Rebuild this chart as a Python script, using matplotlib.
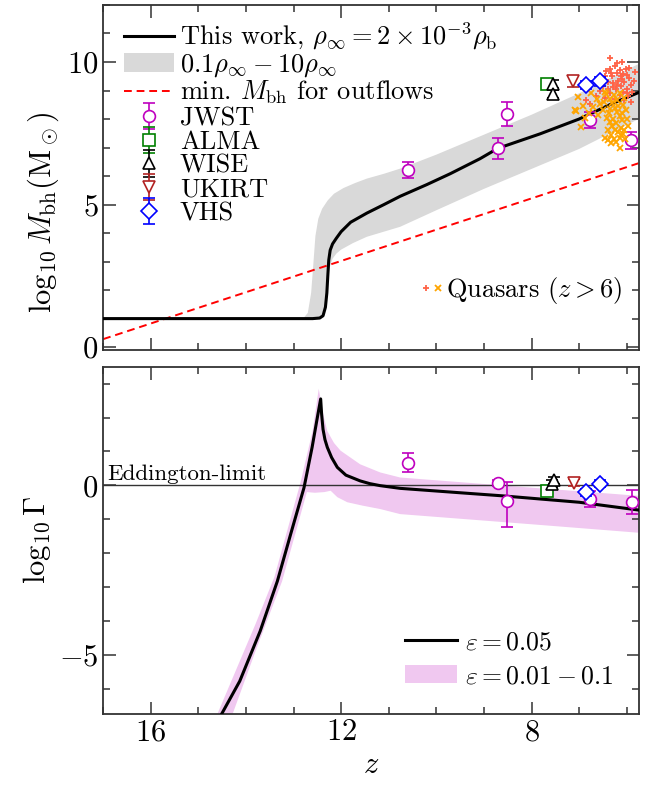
import numpy as np
import matplotlib.pyplot as plt
from matplotlib.patches import Patch
from matplotlib.lines import Line2D
from matplotlib.legend_handler import HandlerTuple
from matplotlib.ticker import MultipleLocator

plt.rcParams['font.family'] = 'serif'
plt.rcParams['font.serif'] = ['cmr10']
plt.rcParams['mathtext.fontset'] = 'cm'
plt.rcParams['axes.formatter.use_mathtext'] = True

# --- curva del modelo: log10 Mbh vs z
z_mod = [17.0, 12.6, 12.45, 12.38, 12.33, 12.3, 12.28, 12.26, 12.23, 12.18, 12.1, 12.0,
         11.8, 11.46, 11.1, 10.76, 10.2, 9.71, 9.08, 8.71, 7.82, 7.0, 6.32, 5.75]
m_mod = [1.0, 1.0, 1.02, 1.1, 1.4, 1.9, 2.5, 3.05, 3.4, 3.62, 3.82, 4.05,
         4.38, 4.7, 5.0, 5.29, 5.7, 6.08, 6.61, 6.97, 7.48, 8.0, 8.53, 8.93]

# banda 0.1 rho - 10 rho
z_up = [17.0, 12.8, 12.7, 12.63, 12.58, 12.54, 12.48, 12.4, 12.28, 12.15, 11.95, 11.7,
        11.46, 11.1, 10.76, 10.0, 9.0, 8.0, 7.0, 5.75]
m_up = [1.0, 1.0, 1.2, 1.9, 3.0, 3.9, 4.5, 4.85, 5.15, 5.38, 5.58, 5.76,
        5.91, 6.08, 6.26, 6.75, 7.45, 8.15, 8.9, 9.93]
z_lo = [17.0, 12.45, 12.4, 12.33, 12.29, 12.24, 12.18, 12.1, 12.0, 11.75, 11.46, 10.76,
        10.0, 9.0, 8.0, 7.0, 5.75]
m_lo = [1.0, 1.0, 1.07, 1.6, 2.2, 2.8, 3.1, 3.28, 3.42, 3.65, 3.87, 4.22,
        4.8, 5.55, 6.25, 6.95, 8.0]

# minimo Mbh para outflows (recta)
z_out = [17.0, 5.75]
m_out = [0.28, 6.45]

# observaciones (z, log Mbh, error)
jwst_z = [10.6, 8.71, 8.52, 6.78, 5.91]
jwst_m = [6.22, 6.97, 8.18, 7.95, 7.25]
jwst_e = [0.29, 0.37, 0.41, 0.28, 0.30]
alma_z, alma_m, alma_e = [7.67], [9.23], [0.15]
wise_z, wise_m, wise_e = [7.55, 7.55], [9.23, 8.88], [0.15, 0.15]
ukirt_z, ukirt_m, ukirt_e = [7.13], [9.32], [0.2]
vhs_z, vhs_m, vhs_e = [6.85, 6.57], [9.2, 9.32], [0.15, 0.15]

# cuasares z > 6
qa_z = [6.36, 6.35, 6.43, 6.08, 6.25, 6.2, 6.15, 6.3, 6.1, 6.0, 5.95, 6.05, 6.18, 6.28,
        6.4, 6.12, 5.92, 6.0, 6.22, 6.08, 5.88, 6.35, 6.15, 5.98, 6.05, 6.25, 5.9, 6.4,
        6.5, 6.57, 6.29, 6.78, 6.85, 6.65, 6.45, 6.1, 6.2, 6.02, 5.85, 5.83, 6.32, 6.13,
        6.45, 6.0, 6.2, 5.95]
qa_m = [10.14, 9.76, 9.67, 9.58, 9.85, 9.6, 9.72, 9.5, 9.42, 9.55, 9.45, 9.3, 9.35, 9.25,
        9.3, 9.15, 9.2, 9.05, 9.05, 8.95, 8.95, 8.9, 8.85, 8.8, 8.65, 8.7, 8.6, 9.05,
        9.15, 9.0, 9.11, 8.53, 8.65, 8.8, 8.75, 10.0, 9.95, 9.75, 9.35, 9.65, 9.62, 9.5,
        9.5, 8.9, 9.2, 9.8]
qb_z = [7.02, 7.06, 6.95, 7.09, 6.92, 6.71, 6.57, 6.4, 6.32, 6.15, 6.08, 6.43, 6.35, 6.3,
        6.25, 6.2, 6.15, 6.1, 6.28, 6.22, 6.12, 6.3, 6.05, 6.18, 6.38, 6.42, 6.35, 6.02,
        6.08, 6.2, 6.25, 6.15, 6.32, 6.4, 6.1, 6.0, 5.98, 6.05, 6.14, 6.27, 6.48, 6.5,
        6.6, 6.8, 6.88, 6.45, 6.22, 6.03, 6.13, 6.26, 6.36, 6.19, 6.45, 6.62, 6.75]
qb_m = [8.76, 8.27, 7.71, 8.3, 8.47, 8.41, 8.53, 7.25, 7.15, 7.0, 7.48, 8.88, 8.7, 8.55,
        8.4, 8.25, 8.1, 7.95, 8.0, 7.85, 7.7, 7.75, 7.6, 7.55, 8.2, 8.05, 7.9, 8.3,
        8.5, 8.65, 7.6, 7.35, 7.45, 7.6, 8.2, 8.0, 7.75, 8.75, 8.9, 8.85, 8.6, 8.3,
        8.15, 8.2, 8.05, 7.35, 7.2, 7.3, 7.45, 7.3, 8.35, 8.45, 8.95, 8.7, 8.9]

# --- panel inferior: log10 Gamma
z_g = [14.55, 14.13, 13.7, 13.34, 13.06, 12.78, 12.61, 12.5, 12.43, 12.41, 12.38, 12.34,
       12.29, 12.2, 12.08, 11.9, 11.6, 11.4, 11.18, 10.76, 9.5, 8.62, 7.0, 5.75]
g_mod = [-6.85, -5.78, -4.3, -2.83, -1.44, -0.07, 1.12, 2.0, 2.55, 2.1, 1.65, 1.35,
         1.12, 0.82, 0.53, 0.3, 0.13, 0.05, -0.01, -0.09, -0.22, -0.31, -0.5, -0.73]
# contorno de la banda eps = 0.01 - 0.1
z_gb = [14.6, 13.8, 13.4, 12.85, 12.6, 12.47, 12.42, 12.36, 12.29, 12.15, 12.01, 11.6,
        11.18, 10.76, 8.0, 5.75, 5.75, 8.0, 10.76, 11.18, 11.55, 11.87, 12.08, 12.22,
        12.35, 12.55, 12.72, 13.24, 13.8, 14.28]
g_gb = [-6.75, -4.1, -2.7, 0.1, 1.6, 2.85, 2.45, 2.0, 1.6, 1.25, 1.02, 0.62,
        0.38, 0.23, -0.07, -0.31, -1.4, -1.15, -0.85, -0.7, -0.6, -0.5, -0.35, -0.16,
        -0.2, -0.22, -0.2, -2.83, -4.9, -6.75]

jw_gz = [10.6, 8.7, 8.51, 6.78, 5.89]
jw_g = [0.67, 0.08, -0.46, -0.41, -0.49]
jw_ge = [[0.29, 0.09, 0.76, 0.23, 0.36], [0.29, 0.09, 0.56, 0.23, 0.36]]
al_gz, al_g = [7.67], [-0.18]
wi_gz, wi_g = [7.57, 7.52], [0.05, 0.15]
uk_gz, uk_g = [7.11], [0.08]
vh_gz, vh_g = [6.85, 6.57], [-0.21, 0.05]
small_e = 0.1

fig = plt.figure(figsize=(6.57, 7.9), dpi=100)
ax1 = fig.add_axes([0.157, 0.557, 0.815, 0.4367])
ax2 = fig.add_axes([0.157, 0.0962, 0.815, 0.4396])

band_c = '#d9d9d9'
pink = '#f0c8f0'
ek = dict(capsize=4, elinewidth=1.2, capthick=1.2, mew=1.2, mfc='white', ls='none')

# ---------- panel superior
ax1.fill(np.concatenate([z_up, z_lo[::-1]]), np.concatenate([m_up, m_lo[::-1]]),
         color=band_c, lw=0, zorder=1)
ln, = ax1.plot(z_mod, m_mod, color='k', lw=2.2, zorder=3)
ax1.plot(z_out, m_out, color='red', ls='--', lw=1.4, dashes=(4, 2.5), zorder=2)

e_j = ax1.errorbar(jwst_z, jwst_m, yerr=jwst_e, fmt='o', ms=8.5, mec='m', ecolor='m', zorder=4, **ek)
qa, = ax1.plot(qa_z, qa_m, '+', color='tomato', ms=4.5, mew=1.3, ls='none', zorder=5)
qb, = ax1.plot(qb_z, qb_m, 'x', color='orange', ms=4, mew=1.3, ls='none', zorder=5)
e_a = ax1.errorbar(alma_z, alma_m, yerr=alma_e, fmt='s', ms=8, mec='green', ecolor='green', zorder=6, **ek)
e_w = ax1.errorbar(wise_z, wise_m, yerr=wise_e, fmt='^', ms=8, mec='k', ecolor='k', zorder=6, **ek)
e_u = ax1.errorbar(ukirt_z, ukirt_m, yerr=ukirt_e, fmt='v', ms=8, mec='firebrick', ecolor='firebrick', zorder=6, **ek)
e_v = ax1.errorbar(vhs_z, vhs_m, yerr=vhs_e, fmt='D', ms=8.5, mec='blue', ecolor='blue', zorder=6, **ek)

h_band = Patch(color=band_c, lw=0)
h_out = Line2D([], [], color='red', ls='--', lw=1.4, dashes=(4, 2.5))
leg1 = ax1.legend([ln, h_band, h_out, e_j, e_a, e_w, e_u, e_v],
                  [r'This work, $\rho_\infty=2\times10^{-3}\rho_{\rm b}$',
                   r'$0.1\rho_\infty-10\rho_\infty$',
                   r'min. $M_{\rm bh}$ for outflows',
                   'JWST', 'ALMA', 'WISE', 'UKIRT', 'VHS'],
                  loc='upper left', bbox_to_anchor=(0.01, 1.0), frameon=False, fontsize=19,
                  handlelength=1.9, handletextpad=0.2, labelspacing=0.0,
                  borderaxespad=0.4, borderpad=0.2)
ax1.add_artist(leg1)
ax1.legend([(qa, qb)], [r'Quasars ($z>6$)'], handler_map={tuple: HandlerTuple(ndivide=None, pad=0.0)},
           loc='center right', bbox_to_anchor=(0.985, 0.172), frameon=False, fontsize=19,
           handlelength=0.9, handletextpad=0.1, borderaxespad=0.2, borderpad=0.1)

ax1.set_xlim(17, 5.75)
ax1.set_ylim(-0.1, 12)
ax1.set_ylabel(r'$\log_{10}M_{\rm bh}({\rm M}_\odot)$', fontsize=22, y=0.40)
ax1.yaxis.set_major_locator(MultipleLocator(5))
ax1.yaxis.set_minor_locator(MultipleLocator(1))
ax1.tick_params(labelbottom=False)

# ---------- panel inferior
ax2.fill(z_gb, g_gb, color=pink, lw=0, zorder=1)
lg, = ax2.plot(z_g, g_mod, color='k', lw=2.2, zorder=3)
ax2.axhline(0, color='#333333', lw=1.0, zorder=2)
ax2.text(16.92, 0.04, 'Eddington-limit', fontsize=16.5, va='bottom', ha='left')

ax2.errorbar(jw_gz, jw_g, yerr=jw_ge, fmt='o', ms=8.5, mec='m', ecolor='m', zorder=4, **ek)
ax2.errorbar(al_gz, al_g, yerr=small_e, fmt='s', ms=8, mec='green', ecolor='green', zorder=6, **ek)
ax2.errorbar(wi_gz, wi_g, yerr=small_e, fmt='^', ms=8, mec='k', ecolor='k', zorder=6, **ek)
ax2.errorbar(uk_gz, uk_g, yerr=small_e, fmt='v', ms=8, mec='firebrick', ecolor='firebrick', zorder=6, **ek)
ax2.errorbar(vh_gz, vh_g, yerr=small_e, fmt='D', ms=8.5, mec='blue', ecolor='blue', zorder=6, **ek)

ax2.legend([lg, Patch(color=pink, lw=0)], [r'$\varepsilon=0.05$', r'$\varepsilon=0.01-0.1$'],
           loc='lower right', frameon=False, fontsize=18.5, handlelength=2.0,
           handletextpad=0.3, labelspacing=0.4, borderaxespad=0.6)

ax2.set_xlim(17, 5.75)
ax2.set_ylim(-6.75, 3.5)
ax2.set_ylabel(r'$\log_{10}\Gamma$', fontsize=22)
ax2.set_xlabel(r'$z$', fontsize=22)
ax2.yaxis.set_major_locator(MultipleLocator(5))
ax2.yaxis.set_minor_locator(MultipleLocator(1))

for ax in (ax1, ax2):
    ax.xaxis.set_major_locator(MultipleLocator(4))
    ax.xaxis.set_minor_locator(MultipleLocator(1))
    ax.tick_params(which='both', direction='in', top=True, right=True, color='#333333', width=1.1)
    ax.tick_params(which='major', length=9, labelsize=22)
    ax.tick_params(which='minor', length=5)
    for s in ax.spines.values():
        s.set_color('#333333')
        s.set_linewidth(1.3)

plt.savefig('out.png', dpi=100)
